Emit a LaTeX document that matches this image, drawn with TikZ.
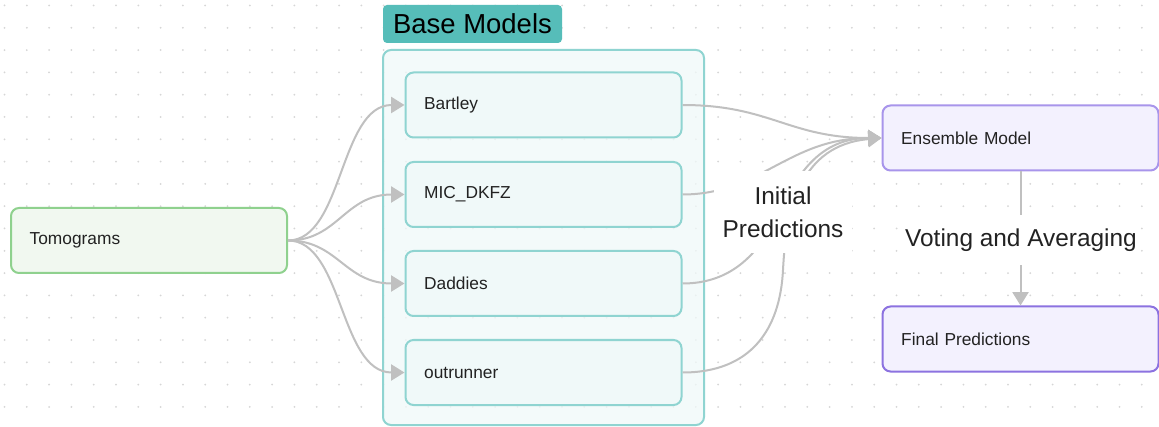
\documentclass[tikz,border=0pt]{standalone}
\usepackage{fontspec}
\setmainfont{Liberation Sans}
\usetikzlibrary{arrows.meta}
\definecolor{edgec}{HTML}{C0C0C0}
\definecolor{dotc}{HTML}{D6D6D6}
\definecolor{txt}{HTML}{222222}
\definecolor{tomofill}{HTML}{F1F8F0}
\definecolor{tomoline}{HTML}{8FD18E}
\definecolor{basefill}{HTML}{F0F9F9}
\definecolor{baseline}{HTML}{8FD4D1}
\definecolor{labelfill}{HTML}{56BDB9}
\definecolor{ensfill}{HTML}{F3F1FE}
\definecolor{ensline}{HTML}{A895EB}
\definecolor{finline}{HTML}{8C72E0}
\begin{document}
\begin{tikzpicture}[x=0.75pt,y=-0.75pt,
  box/.style={rounded corners=6pt, line width=1.5pt, minimum width=207pt,
    minimum height=48.75pt, inner xsep=14pt, text width=179pt, align=left,
    font=\fontsize{13}{15}\selectfont, text=txt},
  tomobox/.style={box, draw=tomoline, fill=tomofill},
  basebox/.style={box, draw=baseline, fill=basefill},
  ensbox/.style={box, draw=ensline, fill=ensfill},
  finbox/.style={box, draw=finline, fill=ensfill},
  edge/.style={draw=edgec, line width=1.5pt, -{Triangle[length=10pt,width=12pt]}},
  biglabel/.style={fill=white, text=txt, font=\fontsize{18.3}{24.75}\selectfont, align=center}
]
\useasboundingbox (0,0) rectangle (1159,427);
\fill[white] (0,0) rectangle (1159,427);
% dot grid
\foreach \i in {0,...,51}{
  \foreach \j in {0,...,18}{
    \fill[dotc] (4.5+\i*22.3, 5.5+\j*22.3) circle (0.75pt);
  }
}
% container
\node[draw=baseline, fill=basefill, fill opacity=0.75, line width=1.5pt, rounded corners=6pt,
  minimum width=240.75pt, minimum height=281.25pt] (container) at (543.5,237.5) {};
\node[fill=labelfill, rounded corners=3pt, minimum width=134.25pt, minimum height=28.5pt,
  text=black, font=\fontsize{20.6}{24}\selectfont] (baselabel) at (472.5,24) {Base Models};
% nodes
\node[tomobox] (tomo) at (149,240.5) {Tomograms};
\node[basebox] (bartley) at (543.5,105) {Bartley};
\node[basebox] (mic) at (543.5,194.5) {MIC\_DKFZ};
\node[basebox] (daddies) at (543.5,283.5) {Daddies};
\node[basebox] (outrunner) at (543.5,372.5) {outrunner};
\node[ensbox] (ens) at (1020.5,138) {Ensemble Model};
\node[finbox] (final) at (1020.5,339) {Final Predictions};
% edges from tomograms
\draw[edge] (tomo.east) .. controls +(55,0) and +(-65,0) .. (bartley.west);
\draw[edge] (tomo.east) .. controls +(50,0) and +(-60,0) .. (mic.west);
\draw[edge] (tomo.east) .. controls +(50,0) and +(-60,0) .. (daddies.west);
\draw[edge] (tomo.east) .. controls +(55,0) and +(-65,0) .. (outrunner.west);
% edges to ensemble
\coordinate (dmid) at (778,215);
\coordinate (omid) at (783,270);
\draw[edge] (bartley.east) .. controls +(88,0) and +(-93,0) .. (ens.west);
\draw[edge] (mic.east) .. controls +(78,0) and +(-93,0) .. (ens.west);
\draw[edge] (daddies.east) .. controls +(48,0) and (758,255) .. (dmid)
  .. controls (793,185) and +(-68,0) .. (ens.west);
\draw[edge] (outrunner.east) .. controls +(68,0) and (780,330) .. (omid)
  .. controls (786,210) and (800,145) .. (ens.west);
\node[biglabel, minimum width=103pt, minimum height=61.5pt] (initlabel) at (783,212)
  {Initial\\Predictions};
% ensemble to final
\draw[edge] (ens.south) -- (final.north);
\node[biglabel, inner xsep=2pt, minimum height=37.5pt] (votelabel) at (1021,240.5)
  {Voting and Averaging};
\end{tikzpicture}
\end{document}
